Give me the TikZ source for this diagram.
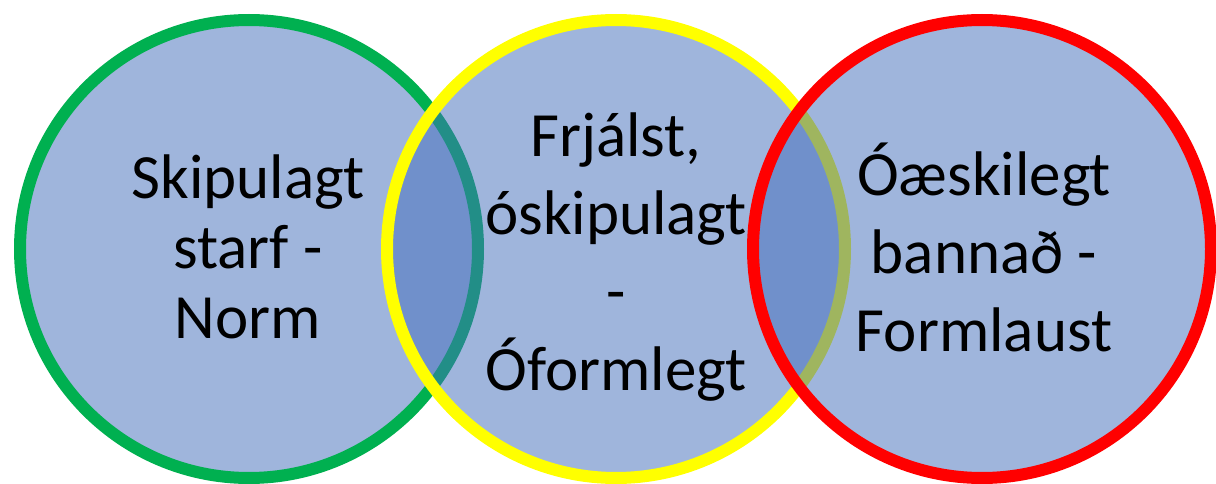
\documentclass[tikz,border=0pt]{standalone}
\usepackage{fontspec}
\setmainfont{Carlito}
\usetikzlibrary{positioning}

\definecolor{vennblue}{RGB}{67,110,188}
\definecolor{normgreen}{RGB}{0,176,80}
\definecolor{freeyellow}{RGB}{255,255,0}
\definecolor{banred}{RGB}{255,0,0}

\begin{document}
\begin{tikzpicture}[x=0.5pt,y=0.5pt,
  venn/.style={circle, minimum size=229pt, inner sep=0pt, line width=6pt,
    fill=vennblue, fill opacity=0.51, draw opacity=1},
  label3/.style={align=center, font=\fontsize{31.5}{35}\selectfont},
  label4/.style={align=center, font=\fontsize{31.5}{39}\selectfont}]

\useasboundingbox[fill=white] (0,0) rectangle (1216,483);

% Circles
\node[venn, draw=normgreen] (norm) at (249,234) {};
\node[venn, draw=freeyellow] (free) at (616,234) {};
\node[venn, draw=banred] (banned) at (982,234) {};

% Labels
\node[label3] (normtext) at (248,236) {Skipulagt\\starf -\\Norm};
\node[label4] (freetext) at (616,226) {Frjálst,\\óskipulagt\\-\\Óformlegt};
\node[label4] (bantext) at (984,236) {Óæskilegt\\bannað -\\Formlaust};

\end{tikzpicture}
\end{document}
